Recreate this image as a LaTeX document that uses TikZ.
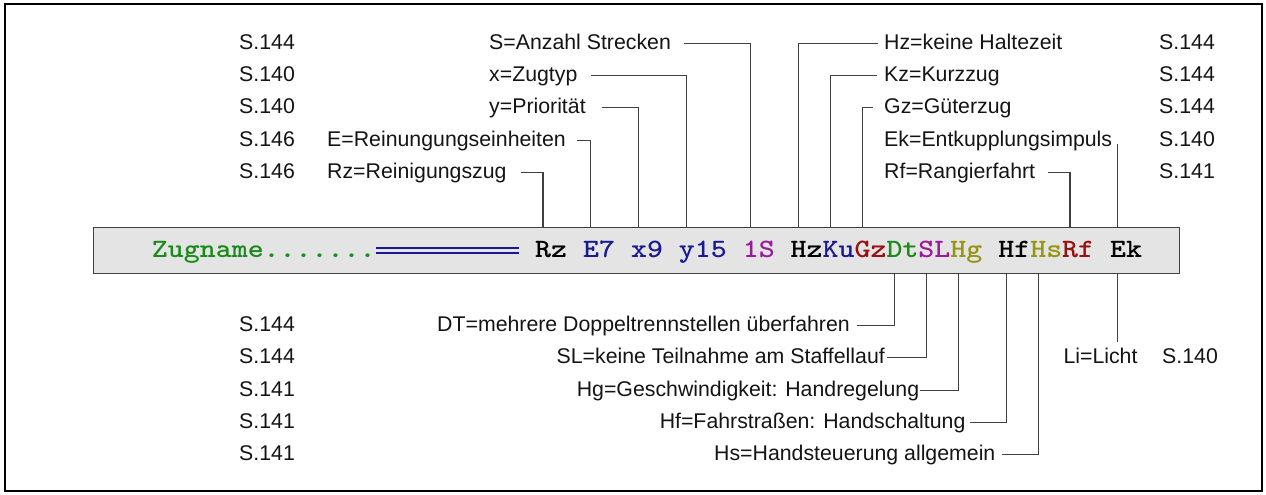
\documentclass[tikz,border=0pt]{standalone}
\usepackage{graphicx}
\usepackage{fontspec}
\setmainfont{Liberation Sans}
\newcommand{\bartok}[1]{\scalebox{1.148}[1]{#1}}
\definecolor{zgreen}{HTML}{1A8A1A}
\definecolor{znavy}{HTML}{1A1A90}
\definecolor{zpurple}{HTML}{9A1A9A}
\definecolor{zolive}{HTML}{959510}
\definecolor{zred}{HTML}{981010}
\definecolor{zbar}{HTML}{E4E4E4}
\begin{document}
\begin{tikzpicture}[x=1pt,y=-1pt,
  lbl/.style={font=\fontsize{21.3}{24}\selectfont, inner sep=0pt, text height=16pt, text depth=4pt, text=black!92},
  tok/.style={font=\ttfamily\bfseries\fontsize{26.5}{30}\selectfont, inner sep=0pt, anchor=base west},
  conn/.style={draw=black!75, line width=1.1pt},
  frame/.style={draw=black, line width=1.5pt}]
\useasboundingbox (0,0) rectangle (1266,495);
\draw[frame] (5,4) rectangle (1262,491);

% bar
\node[draw=black!75, fill=zbar, line width=1pt, minimum width=1086pt, minimum height=46pt, anchor=north west, inner sep=0pt] (bar) at (93,227) {};

% bar tokens (char grid: left edge 535 + 15.97 i, baseline 257)
\node[tok, text=zgreen] (kZ) at (535-15.97*24,257) {\bartok{Zugname.......}};
\draw[znavy, line width=1.9pt] (kZ.base east) ++(0,-8.8) -- ++(143.7,0);
\draw[znavy, line width=1.9pt] (kZ.base east) ++(0,-4.0) -- ++(143.7,0);
\node[tok, text=black]   (kRz) at (535,257) {\bartok{Rz}};
\node[tok, text=znavy]   (kE)  at (535+15.97*3,257) {\bartok{E7}};
\node[tok, text=znavy]   (kx)  at (535+15.97*6,257) {\bartok{x9}};
\node[tok, text=znavy]   (ky)  at (535+15.97*9,257) {\bartok{y15}};
\node[tok, text=zpurple] (kS)  at (535+15.97*13,257) {\bartok{1S}};
\node[tok, text=black]   (kHz) at (535+15.97*16,257) {\bartok{Hz}};
\node[tok, text=znavy]   (kKu) at (535+15.97*18,257) {\bartok{Ku}};
\node[tok, text=zred]    (kGz) at (535+15.97*20,257) {\bartok{Gz}};
\node[tok, text=zgreen]  (kDt) at (535+15.97*22,257) {\bartok{Dt}};
\node[tok, text=zpurple] (kSL) at (535+15.97*24,257) {\bartok{SL}};
\node[tok, text=zolive]  (kHg) at (535+15.97*26,257) {\bartok{Hg}};
\node[tok, text=black]   (kHf) at (535+15.97*29,257) {\bartok{Hf}};
\node[tok, text=zolive]  (kHs) at (535+15.97*31,257) {\bartok{Hs}};
\node[tok, text=zred]    (kRf) at (535+15.97*33,257) {\bartok{Rf}};
\node[tok, text=black]   (kEk) at (535+15.97*36,257) {\bartok{Ek}};

% connector points on the bar edges (centre of first character)
\foreach \n/\i in {Rz/0,E/3,x/6,y/9,S/13,Hz/16,Ku/18,Gz/20,Rf/33,Ek/36}
  \coordinate (t\n) at (543+15.97*\i,227);
\foreach \n/\i in {Dt/22,SL/24,Hg/26,Hf/29,Hs/31,Ek/36}
  \coordinate (b\n) at (543+15.97*\i,273);

% top left
\node[lbl,anchor=west] (pT1) at (239,43.3)  {S.144};
\node[lbl,anchor=west] (pT2) at (239,75.6)  {S.140};
\node[lbl,anchor=west] (pT3) at (239,107.9) {S.140};
\node[lbl,anchor=west] (pT4) at (239,140.2) {S.146};
\node[lbl,anchor=west] (pT5) at (239,172.5) {S.146};
\node[lbl,anchor=west] (lS)  at (489,43.3)  {S=Anzahl Strecken};
\node[lbl,anchor=west] (lx)  at (489,75.6)  {x=Zugtyp};
\node[lbl,anchor=west] (ly)  at (489,107.9) {y=Priorität};
\node[lbl,anchor=west] (lE)  at (327,140.2) {E=Reinungungseinheiten};
\node[lbl,anchor=west] (lRz) at (327,172.5) {Rz=Reinigungszug};
\coordinate (cS)  at (684,43.3);
\coordinate (cx)  at (590.7,75.6);
\coordinate (cy)  at (601.7,107.9);
\coordinate (cE)  at (576.7,140.2);
\coordinate (cRz) at (521,172.5);
\draw[conn] (cS) -| (tS);
\draw[conn] (cx) -| (ty);
\draw[conn] (cy) -| (tx);
\draw[conn] (cE) -| (tE);
\draw[conn] (cRz) -| (tRz);

% top right
\node[lbl,anchor=west] (lHz) at (884,43.3)  {Hz=keine Haltezeit};
\node[lbl,anchor=west] (lKz) at (884,75.6)  {Kz=Kurzzug};
\node[lbl,anchor=west] (lGz) at (884,107.9) {Gz=Güterzug};
\node[lbl,anchor=west] (lEk) at (884,140.2) {Ek=Entkupplungsimpuls};
\node[lbl,anchor=west] (lRf) at (884,172.5) {Rf=Rangierfahrt};
\node[lbl,anchor=west] (pR1) at (1159,43.3)  {S.144};
\node[lbl,anchor=west] (pR2) at (1159,75.6)  {S.144};
\node[lbl,anchor=west] (pR3) at (1159,107.9) {S.144};
\node[lbl,anchor=west] (pR4) at (1159,140.2) {S.140};
\node[lbl,anchor=west] (pR5) at (1159,172.5) {S.141};
\coordinate (cHz) at (878,43.3);
\coordinate (cKz) at (877,75.6);
\coordinate (cGz) at (873,107.9);
\coordinate (cEk) at (543+15.97*36,144);
\coordinate (cRf) at (1048,172.5);
\draw[conn] (cHz) -| (tHz);
\draw[conn] (cKz) -| (tKu);
\draw[conn] (cGz) -| (tGz);
\draw[conn] (cEk) -- (tEk);
\draw[conn] (cRf) -| (tRf);

% bottom
\node[lbl,anchor=west] (pB1) at (239,325.5) {S.144};
\node[lbl,anchor=west] (pB2) at (239,357.8) {S.144};
\node[lbl,anchor=west] (pB3) at (239,390.1) {S.141};
\node[lbl,anchor=west] (pB4) at (239,422.4) {S.141};
\node[lbl,anchor=west] (pB5) at (239,454.7) {S.141};
\node[lbl,anchor=east] (lDt) at (850,325.5)   {DT=mehrere Doppeltrennstellen überfahren};
\node[lbl,anchor=east] (lSL) at (885,357.8)   {SL=keine Teilnahme am Staffellauf};
\node[lbl,anchor=east] (lHg) at (919.4,390.1) {Hg=Geschwindigkeit: Handregelung};
\node[lbl,anchor=east] (lHf) at (965.6,422.4) {Hf=Fahrstraßen: Handschaltung};
\node[lbl,anchor=east] (lHs) at (995.6,454.7) {Hs=Handsteuerung allgemein};
\coordinate (cDt) at (857,325.5);
\coordinate (cSL) at (887,357.8);
\coordinate (cHg) at (920,390.1);
\coordinate (cHf) at (970,422.4);
\coordinate (cHs) at (1002,454.7);
\draw[conn] (cDt) -| (bDt);
\draw[conn] (cSL) -| (bSL);
\draw[conn] (cHg) -| (bHg);
\draw[conn] (cHf) -| (bHf);
\draw[conn] (cHs) -| (bHs);
\node[lbl,anchor=west] (lLi) at (1063.3,357.8) {Li=Licht};
\node[lbl,anchor=west] (pLi) at (1162,357.8) {S.140};
\coordinate (cLi) at (543+15.97*36,341.7);
\draw[conn] (bEk) -- (cLi);
\end{tikzpicture}
\end{document}
